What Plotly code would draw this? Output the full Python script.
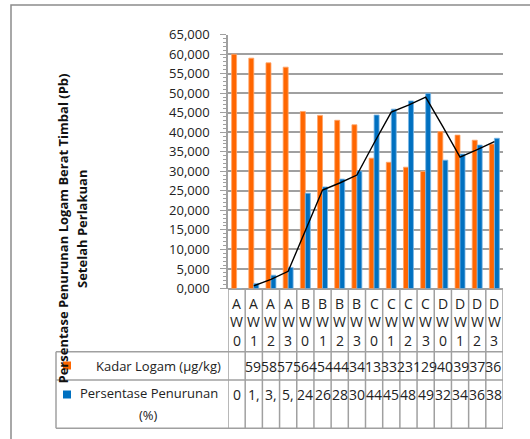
import plotly.graph_objects as go

categories = ["AW0", "AW1", "AW2", "AW3", "BW0", "BW1", "BW2", "BW3",
              "CW0", "CW1", "CW2", "CW3", "DW0", "DW1", "DW2", "DW3"]
kadar = [59.95, 58.95, 57.75, 56.65, 45.3, 44.3, 43.05, 41.9,
         33.35, 32.3, 31.05, 29.95, 40.15, 39.25, 37.95, 36.95]
persen = [0, 1.3, 3.4, 5.4, 24.4, 26.0, 28.0, 30.05,
          44.4, 45.9, 48.0, 49.95, 32.85, 34.4, 36.7, 38.45]
kadar_name = "Kadar Logam (µg/kg)"
persen_name_1 = "Persentase Penurunan"
persen_name_2 = "(%)"
y_title_1 = "Persentase Penurunan Logam Berat Timbal (Pb)"
y_title_2 = "Setelah Perlakuan"
y_ticks = [0, 5, 10, 15, 20, 25, 30, 35, 40, 45, 50, 55, 60, 65]

ORANGE = "#FF6600"
BLUE = "#0070C0"
GRID = "#A0A0A0"
FONT = "Open Sans"

W, H = 530, 439


def X(px):
    return px / W


def Y(py):
    return 1 - py / H


PL, PR, PT, PB = 228, 503, 34.5, 288.5

# 2-period moving average trendline of the percentage series
trend_x = categories[1:]
trend_y = [(persen[i - 1] + persen[i]) / 2 for i in range(1, len(persen))]

fig = go.Figure()
fig.add_trace(go.Bar(x=categories, y=kadar, name=kadar_name,
                     marker=dict(color=ORANGE, line=dict(color="#FFA468", width=0.8))))
fig.add_trace(go.Bar(x=categories, y=persen, name="Persentase Penurunan (%)",
                     marker=dict(color=BLUE, line=dict(color="#7DB8E4", width=0.8))))
fig.add_trace(go.Scatter(x=trend_x, y=trend_y, mode="lines",
                         line=dict(color="black", width=1.4)))

shapes = []
# outer border
shapes.append(dict(type="rect", xref="paper", yref="paper",
                   x0=X(11), x1=X(540), y0=Y(450), y1=Y(5),
                   line=dict(color="#8C8C8C", width=1.5), layer="below"))
tl = dict(color=GRID, width=1.5)
for yy in [351.7, 380, 428.3]:
    shapes.append(dict(type="line", xref="paper", yref="paper",
                       x0=X(56), x1=X(PR), y0=Y(yy), y1=Y(yy), line=tl))
shapes.append(dict(type="line", xref="paper", yref="paper",
                   x0=X(56), x1=X(56), y0=Y(351.7), y1=Y(428.3), line=tl))
for i in range(len(categories) + 1):
    shapes.append(dict(type="line", xref="x", yref="paper",
                       x0=i - 0.5, x1=i - 0.5, y0=Y(PB), y1=Y(428.3), line=tl))
# legend keys
shapes.append(dict(type="rect", xref="paper", yref="paper",
                   x0=X(63), x1=X(71), y0=Y(369.5), y1=Y(361.5),
                   fillcolor=ORANGE, line=dict(width=0)))
shapes.append(dict(type="rect", xref="paper", yref="paper",
                   x0=X(63), x1=X(71), y0=Y(398.5), y1=Y(390.5),
                   fillcolor=BLUE, line=dict(width=0)))

ann = []
# category labels stacked vertically
for c in categories:
    for j, ch in enumerate(c):
        ann.append(dict(x=c, xref="x", y=Y(303 + 18.7 * j), yref="paper",
                        text=ch, showarrow=False, xanchor="center", yanchor="middle",
                        font=dict(family=FONT, size=14, color="#222")))
# data table row 1 (overflowing text)
kadar_text = "".join(str(int(v)) for v in kadar)
ann.append(dict(x=X(502.5), y=Y(366), xref="paper", yref="paper", text=kadar_text,
                showarrow=False, xanchor="right", yanchor="middle",
                font=dict(family=FONT, size=14, color="#222")))
# data table row 2
for c, v in zip(categories, persen):
    t = str(int(v)) if (v >= 10 or v == 0) else f"{int(v)},"
    ann.append(dict(x=c, xref="x", y=Y(394), yref="paper", text=t,
                    showarrow=False, xanchor="center", yanchor="middle",
                    font=dict(family=FONT, size=14, color="#222")))
# row labels
ann.append(dict(x=X(223), y=Y(366), xref="paper", yref="paper", text=kadar_name,
                showarrow=False, xanchor="right", yanchor="middle",
                font=dict(family=FONT, size=13, color="#222")))
ann.append(dict(x=X(148.5), y=Y(393), xref="paper", yref="paper", text=persen_name_1,
                showarrow=False, xanchor="center", yanchor="middle",
                font=dict(family=FONT, size=13, color="#222")))
ann.append(dict(x=X(148), y=Y(415), xref="paper", yref="paper", text=persen_name_2,
                showarrow=False, xanchor="center", yanchor="middle",
                font=dict(family=FONT, size=13, color="#222")))
# axis title
ann.append(dict(x=X(62), y=Y(228.5), xref="paper", yref="paper", text="<b>" + y_title_1 + "</b>",
                showarrow=False, textangle=-90, xanchor="center", yanchor="middle",
                font=dict(family=FONT, size=13, color="#111")))
ann.append(dict(x=X(82), y=Y(229), xref="paper", yref="paper", text="<b>" + y_title_2 + "</b>",
                showarrow=False, textangle=-90, xanchor="center", yanchor="middle",
                font=dict(family=FONT, size=13, color="#111")))

fig.update_layout(
    width=W, height=H, autosize=False,
    margin=dict(l=0, r=0, t=0, b=0, pad=0, autoexpand=False),
    paper_bgcolor="white", plot_bgcolor="white",
    separators=",.",
    barmode="group", bargap=0.42, bargroupgap=0,
    showlegend=False,
    shapes=shapes, annotations=ann,
    xaxis=dict(domain=[X(PL), X(PR)], type="category", categoryorder="array",
               categoryarray=categories, range=[-0.5, 15.5], automargin=False,
               showticklabels=False, showgrid=False, ticks="", showline=False,
               zeroline=False, fixedrange=True),
    yaxis=dict(domain=[Y(PB), Y(PT)], range=[0, 65], tickvals=y_ticks, automargin=False,
               tickformat=".3f", showgrid=True, gridcolor=GRID, gridwidth=1.5,
               zeroline=True, zerolinecolor=GRID, zerolinewidth=1.5,
               showline=True, linecolor=GRID, linewidth=1.5,
               ticks="outside", ticklen=6, tickcolor=GRID, tickwidth=1.2,
               minor=dict(dtick=1, ticks="outside", ticklen=3, tickcolor=GRID,
                          tickwidth=1, showgrid=False),
               ticklabelstandoff=8,
               tickfont=dict(family=FONT, size=13, color="#222")),
)

fig.write_html("out.html", config={"displayModeBar": False},
               post_script="document.body.style.margin='0';document.body.style.overflow='hidden';")
